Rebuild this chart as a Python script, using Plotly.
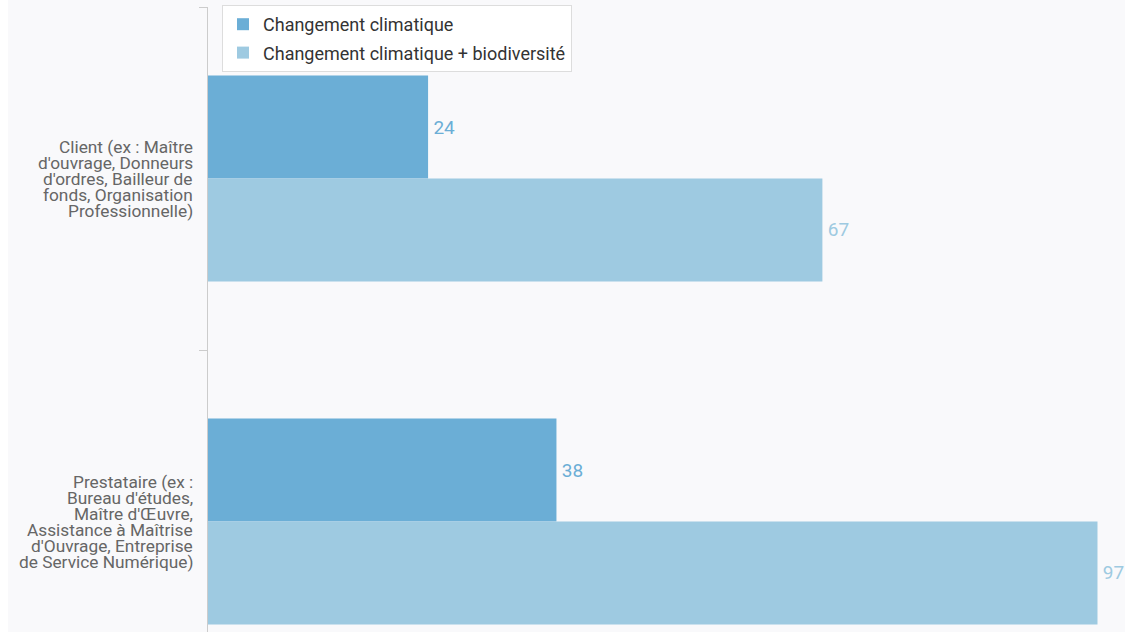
import plotly.graph_objects as go

# Data
categories = [
    "Client (ex : Maître d'ouvrage, Donneurs d'ordres, Bailleur de fonds, Organisation Professionnelle)",
    "Prestataire (ex : Bureau d'études, Maître d'Œuvre, Assistance à Maîtrise d'Ouvrage, Entreprise de Service Numérique)",
]
category_lines = [
    ["Client (ex : Maître", "d'ouvrage, Donneurs", "d'ordres, Bailleur de", "fonds, Organisation", "Professionnelle)"],
    ["Prestataire (ex :", "Bureau d'études,", "Maître d'Œuvre,", "Assistance à Maîtrise", "d'Ouvrage, Entreprise", "de Service Numérique)"],
]
series_names = ["Changement climatique", "Changement climatique + biodiversité"]
climat = [24, 38]
climat_biodiv = [67, 97]

colors = ["#6baed6", "#9ecae1"]
FONT = "Roboto"

W, H = 1125, 632
M_L, M_T = 208, 7
plot_w = W - M_L
plot_h = H - M_T

fig = go.Figure()
for name, vals, col in zip(series_names, [climat, climat_biodiv], colors):
    fig.add_trace(go.Bar(
        name=name,
        legendgroup=name,
        y=categories,
        x=vals,
        orientation="h",
        marker=dict(color=col, line=dict(width=0)),
        # narrow no-break space keeps a small gap between bar end and value
        text=["\u202f" + str(v) for v in vals],
        textposition="outside",
        textfont=dict(family=FONT, size=19, color=col),
        hoverinfo="x+name",
    ))

# Multi-line category labels with tight line spacing
LINE_H = 16
annotations = []
for cat, lines in zip(categories, category_lines):
    n = len(lines)
    for i, line in enumerate(lines):
        annotations.append(dict(
            xref="paper", yref="y", x=0, y=cat,
            text=line, showarrow=False,
            xanchor="right", yanchor="middle",
            xshift=-13, yshift=((n - 1) / 2 - i) * LINE_H,
            font=dict(family=FONT, size=17.3, color="#666666"),
        ))

# white strip at the very left edge of the page
shapes = [dict(
    type="rect", xref="paper", yref="paper",
    x0=-M_L / plot_w, x1=-(M_L - 8) / plot_w, y0=-0.01, y1=1 + M_T / plot_h + 0.01,
    fillcolor="white", line=dict(width=0), layer="below",
)]

fig.update_layout(
    width=W, height=H,
    margin=dict(l=M_L, r=0, t=M_T, b=0, pad=0),
    paper_bgcolor="#f9f9fb",
    plot_bgcolor="#f9f9fb",
    barmode="group",
    bargap=0.4,
    bargroupgap=0,
    showlegend=True,
    legend=dict(
        x=(222 - M_L) / plot_w, y=1 + (M_T - 5) / plot_h,
        xanchor="left", yanchor="top",
        bgcolor="white", bordercolor="#dddddd", borderwidth=1,
        font=dict(family=FONT, size=18, color="#333333"),
        traceorder="grouped", tracegroupgap=2,
    ),
    xaxis=dict(
        range=[0, 100], showgrid=False, zeroline=False,
        showticklabels=False, showline=False, ticks="",
    ),
    yaxis=dict(
        type="category",
        categoryorder="array", categoryarray=categories,
        range=[-0.5 + plot_h / 343, -0.5],
        showgrid=False, zeroline=False,
        showline=True, linecolor="#cccccc", linewidth=1,
        ticks="outside", ticklen=8, tickcolor="#cccccc", tickwidth=1,
        tickson="boundaries",
        showticklabels=False,
    ),
    annotations=annotations,
    shapes=shapes,
    font=dict(family=FONT),
)

fig.write_html("out.html")
